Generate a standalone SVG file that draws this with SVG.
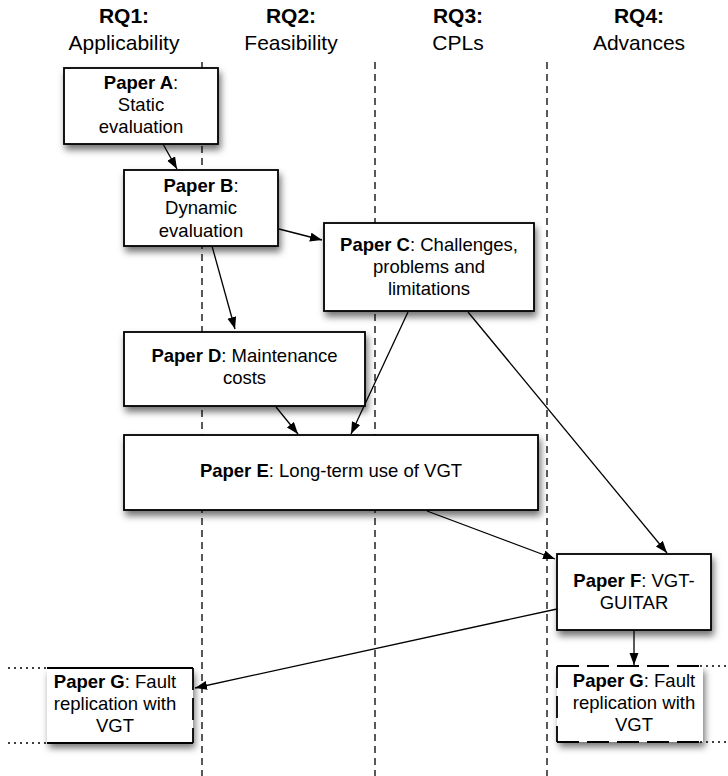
<svg xmlns="http://www.w3.org/2000/svg" width="728" height="776" viewBox="0 0 728 776">
<style>
.hdr{font-family:"Liberation Sans",Arial,sans-serif;font-size:21px;fill:#000;text-anchor:middle}
.t{font-family:"Liberation Sans",Arial,sans-serif;font-size:18.5px;fill:#000;text-anchor:middle}
.b{font-weight:bold}
.box{fill:#fff;stroke:#000;stroke-width:1.8}
.col{stroke:#000;stroke-width:1.3;stroke-dasharray:7 5;fill:none}
.edge{stroke:#000;stroke-width:1.3;fill:none;marker-end:url(#ah)}
.dot{stroke:#000;stroke-width:1.3;stroke-dasharray:2 4;fill:none}
.sol{stroke:#000;stroke-width:1.8;fill:none}
.dsh{stroke:#000;stroke-width:1.8;stroke-dasharray:22 8;fill:none}
</style>
<defs>
<marker id="ah" markerUnits="userSpaceOnUse" markerWidth="13" markerHeight="10" refX="12" refY="4.5" orient="auto">
<path d="M0,0 L12,4.5 L0,9 z" fill="#000"/>
</marker>
<filter id="sh" x="-20%" y="-20%" width="140%" height="150%">
<feDropShadow dx="2" dy="5" stdDeviation="3.5" flood-color="#000" flood-opacity="0.55"/>
</filter>
</defs>
<rect width="728" height="776" fill="#fff"/>
<g id="headers">
<text class="hdr b" x="124" y="23">RQ1:</text>
<text class="hdr" x="124" y="50">Applicability</text>
<text class="hdr b" x="291" y="23">RQ2:</text>
<text class="hdr" x="291" y="50">Feasibility</text>
<text class="hdr b" x="458" y="23">RQ3:</text>
<text class="hdr" x="458" y="50">CPLs</text>
<text class="hdr b" x="639" y="23">RQ4:</text>
<text class="hdr" x="639" y="50">Advances</text>
</g>
<g id="columns">
<line class="col" x1="202" y1="62" x2="202" y2="776"/>
<line class="col" x1="375" y1="62" x2="375" y2="776"/>
<line class="col" x1="547" y1="62" x2="547" y2="776"/>
</g>
<g id="connectors">
<line class="edge" x1="163" y1="144" x2="177" y2="169"/>
<line class="edge" x1="279" y1="229" x2="322" y2="240"/>
<line class="edge" x1="212" y1="246" x2="235" y2="329"/>
<line class="edge" x1="276" y1="407" x2="298" y2="434"/>
<line class="edge" x1="408" y1="312" x2="351" y2="434"/>
<line class="edge" x1="468" y1="312" x2="667" y2="553"/>
<line class="edge" x1="427" y1="511" x2="555" y2="559"/>
<line class="edge" x1="557" y1="609" x2="195" y2="688"/>
<line class="edge" x1="634" y1="631" x2="634" y2="665"/>
</g>
<g id="paperA">
<rect class="box" x="64" y="68" width="154" height="76" filter="url(#sh)"/>
<text class="t" x="141" y="89"><tspan class="b">Paper A</tspan>:</text>
<text class="t" x="141" y="111">Static</text>
<text class="t" x="141" y="133">evaluation</text>
</g>
<g id="paperB">
<rect class="box" x="124" y="170" width="154" height="76" filter="url(#sh)"/>
<text class="t" x="201" y="192"><tspan class="b">Paper B</tspan>:</text>
<text class="t" x="201" y="214">Dynamic</text>
<text class="t" x="201" y="237">evaluation</text>
</g>
<g id="paperC">
<rect class="box" x="324" y="223" width="210" height="88" filter="url(#sh)"/>
<text class="t" x="429" y="251"><tspan class="b">Paper C</tspan>: Challenges,</text>
<text class="t" x="429" y="273">problems and</text>
<text class="t" x="429" y="295">limitations</text>
</g>
<g id="paperD">
<rect class="box" x="124" y="332" width="241" height="74" filter="url(#sh)"/>
<text class="t" x="244.5" y="362"><tspan class="b">Paper D</tspan>: Maintenance</text>
<text class="t" x="244.5" y="384">costs</text>
</g>
<g id="paperE">
<rect class="box" x="124" y="435" width="414" height="75" filter="url(#sh)"/>
<text class="t" x="331" y="477"><tspan class="b">Paper E</tspan>: Long-term use of VGT</text>
</g>
<g id="paperF">
<rect class="box" x="557" y="554" width="154" height="76" filter="url(#sh)"/>
<text class="t" x="634" y="587"><tspan class="b">Paper F</tspan>: VGT-</text>
<text class="t" x="634" y="609">GUITAR</text>
</g>
<g id="paperG-left">
<rect x="47" y="668" width="146" height="75" fill="#fff" filter="url(#sh)"/>
<line class="sol" x1="47" y1="668" x2="193" y2="668"/>
<line class="sol" x1="47" y1="743" x2="193" y2="743"/>
<line class="dsh" x1="193" y1="668" x2="193" y2="743"/>
<line class="dot" x1="8" y1="668" x2="47" y2="668"/>
<line class="dot" x1="8" y1="743" x2="47" y2="743"/>
<text class="t" x="115" y="688"><tspan class="b">Paper G</tspan>: Fault</text>
<text class="t" x="115" y="710">replication with</text>
<text class="t" x="115" y="732">VGT</text>
</g>
<g id="paperG-right">
<rect x="557" y="666" width="146" height="76" fill="#fff" filter="url(#sh)"/>
<line class="dsh" x1="557" y1="666" x2="700" y2="666"/>
<line class="dsh" x1="557" y1="742" x2="700" y2="742"/>
<line class="dsh" x1="557" y1="666" x2="557" y2="742"/>
<line class="dot" x1="700" y1="666" x2="728" y2="666"/>
<line class="dot" x1="700" y1="742" x2="728" y2="742"/>
<text class="t" x="634" y="687"><tspan class="b">Paper G</tspan>: Fault</text>
<text class="t" x="634" y="709">replication with</text>
<text class="t" x="634" y="731">VGT</text>
</g>
</svg>
